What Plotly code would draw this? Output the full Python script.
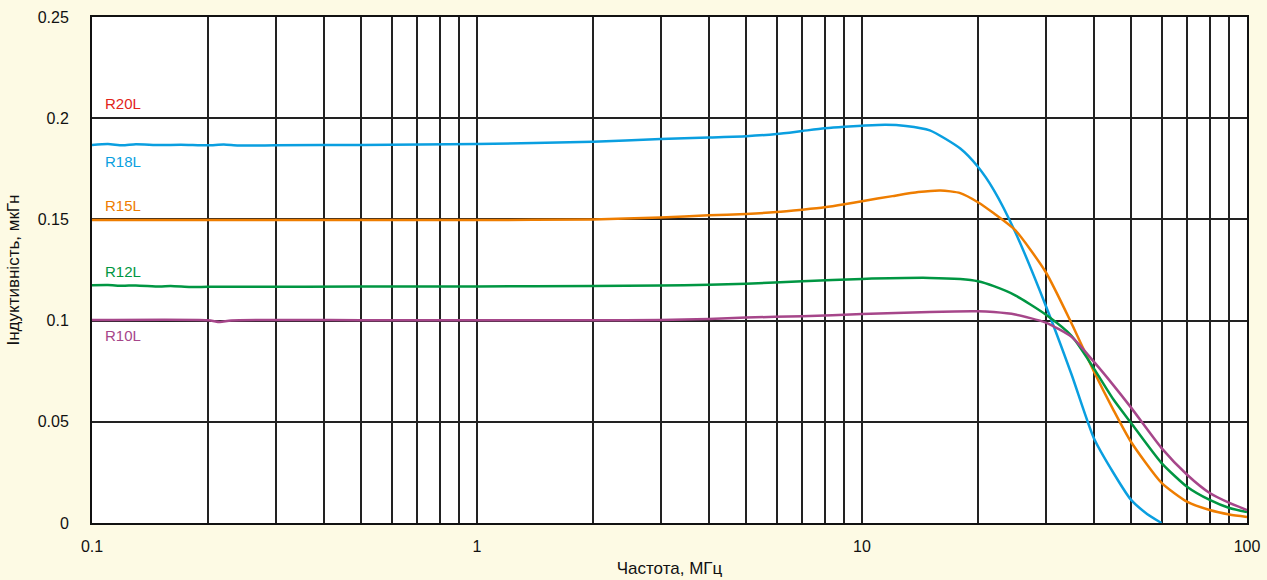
import plotly.graph_objects as go

# ---- data ----
f_r18 = [0.1, 0.11, 0.12, 0.13, 0.15, 0.17, 0.2, 0.22, 0.24, 0.3, 0.5, 1, 2, 3, 4, 5, 6, 7, 8, 9, 10,
         11.5, 13, 15, 18, 20, 22, 25, 30, 35, 40, 45, 50, 55, 60]
v_r18 = [0.1868, 0.1872, 0.1866, 0.1871, 0.1867, 0.1869, 0.1866, 0.1870, 0.1865, 0.1866, 0.1868, 0.1872,
         0.1884, 0.1897, 0.1905, 0.1911, 0.1922, 0.1937, 0.1950, 0.1958, 0.1963, 0.1968, 0.1962, 0.1940,
         0.1850, 0.1760, 0.1645, 0.1438, 0.1075, 0.0735, 0.0420, 0.0247, 0.0114, 0.0045, 0.0]

f_r15 = [0.1, 0.3, 1, 2, 3, 4, 5, 6, 7, 8, 9, 10, 12, 14, 16, 18, 20, 22, 25, 30, 35, 40, 45, 50,
         60, 70, 80, 90, 100]
v_r15 = [0.1497, 0.1497, 0.1497, 0.1500, 0.1510, 0.1520, 0.1527, 0.1536, 0.1548, 0.1560, 0.1575, 0.1590,
         0.1615, 0.1635, 0.1643, 0.1630, 0.1585, 0.1530, 0.1447, 0.1240, 0.0987, 0.0750, 0.0558, 0.0400,
         0.0198, 0.0104, 0.0064, 0.0042, 0.0030]

f_r12 = [0.1, 0.11, 0.12, 0.13, 0.15, 0.16, 0.18, 0.2, 0.25, 0.5, 1, 2, 3, 4, 5, 7, 10, 15, 18, 20,
         22, 25, 30, 35, 40, 45, 50, 60, 70, 80, 90, 100]
v_r12 = [0.1175, 0.1176, 0.1172, 0.1174, 0.1168, 0.1171, 0.1166, 0.1167, 0.1167, 0.1168, 0.1169, 0.1171,
         0.1173, 0.1177, 0.1182, 0.1195, 0.1206, 0.1211, 0.1205, 0.1194, 0.1170, 0.1125, 0.1030,
         0.0925, 0.0764, 0.0610, 0.0494, 0.0296, 0.0178, 0.0114, 0.0074, 0.0054]

f_r10 = [0.1, 0.2, 0.215, 0.23, 0.5, 1, 2, 3, 4, 5, 7, 10, 15, 20, 22, 25, 30, 35, 40, 45, 50,
         60, 70, 80, 90, 100]
v_r10 = [0.1003, 0.1002, 0.0993, 0.1001, 0.1002, 0.1002, 0.1002, 0.1003, 0.1008, 0.1015, 0.1022, 0.1032,
         0.1043, 0.1046, 0.1042, 0.1030, 0.0990, 0.0920, 0.0797, 0.0680, 0.0570, 0.0370, 0.0237,
         0.0148, 0.0099, 0.0064]

series = [
    ("R18L", f_r18, v_r18, "#0A9FE0"),
    ("R15L", f_r15, v_r15, "#EE7D00"),
    ("R12L", f_r12, v_r12, "#009642"),
    ("R10L", f_r10, v_r10, "#A6468A"),
]

labels = ["R20L", "R18L", "R15L", "R12L", "R10L"]
label_y = [0.2075, 0.1784, 0.1571, 0.1245, 0.0924]
label_colors = ["#E2231A", "#0A9FE0", "#EE7D00", "#009642", "#A6468A"]

x_tickvals = [m * 10 ** e for e in (-1, 0, 1) for m in range(1, 10)] + [100]
x_ticktext = [("0.1" if v == 0.1 else "1" if v == 1 else "10" if v == 10 else "100" if v == 100 else "")
              for v in x_tickvals]
y_tickvals = [0, 0.05, 0.1, 0.15, 0.2, 0.25]
y_ticktext = ["0", "0.05", "0.1", "0.15", "0.2", "0.25"]

FONT = "Liberation Sans Narrow, Arial Narrow, Liberation Sans, sans-serif"

fig = go.Figure()
for name, fx, vy, col in series:
    fig.add_trace(go.Scatter(x=fx, y=vy, mode="lines", name=name,
                             line=dict(color=col, width=2.5, shape="spline", smoothing=0.6),
                             hoverinfo="x+y+name"))

for t, yv, c in zip(labels, label_y, label_colors):
    fig.add_annotation(text=t, x=0.0095, xref="paper", y=yv, yref="y", xanchor="left",
                       yanchor="middle", showarrow=False, font=dict(color=c, size=15, family=FONT))

fig.update_layout(
    width=1267, height=580,
    paper_bgcolor="#FDFAE4", plot_bgcolor="#FFFFFF",
    margin=dict(l=92, r=20, t=17, b=57, autoexpand=False),
    showlegend=False,
    font=dict(family=FONT, size=16, color="#111111"),
    xaxis=dict(type="log", range=[-1, 2], tickvals=x_tickvals, ticktext=x_ticktext,
               showgrid=True, gridcolor="#222222", gridwidth=1.5,
               showline=True, linecolor="#111111", linewidth=2, mirror=True,
               zeroline=False, ticks="", ticklabelstandoff=8, automargin=False,
               title=dict(text="Частота, МГц", standoff=8, font=dict(size=17))),
    yaxis=dict(range=[0, 0.25], tickvals=y_tickvals, ticktext=y_ticktext,
               showgrid=True, gridcolor="#222222", gridwidth=1.5,
               showline=True, linecolor="#111111", linewidth=2, mirror=True,
               zeroline=False, ticks="", ticklabelstandoff=18, automargin=False,
               title=dict(text="Індуктивність, мкГн", standoff=14, font=dict(size=17))),
)

fig.write_html("out.html", config={"displayModeBar": False},
               post_script="document.body.style.margin='0';document.body.style.background='#FDFAE4';")
